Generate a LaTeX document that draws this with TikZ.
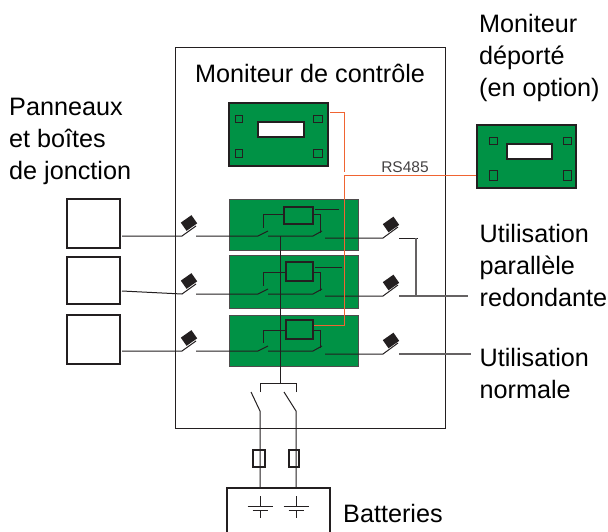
\documentclass[tikz,border=0pt]{standalone}
\usepackage{fontspec}
\setmainfont{Liberation Sans}
\usetikzlibrary{positioning}
\definecolor{boardgreen}{RGB}{0,146,69}
\definecolor{linkorange}{RGB}{240,100,50}
\definecolor{inkblack}{RGB}{35,31,32}
\tikzset{
  wire/.style={draw=inkblack,line width=1pt},
  heavy/.style={draw=inkblack,line width=2pt,inner sep=0pt},
  board/.style={draw=inkblack!80,fill=boardgreen,line width=1pt,inner sep=0pt},
  pcb/.style={heavy,fill=boardgreen},
  relay/.style={heavy,fill=boardgreen},
  window/.style={heavy,fill=white},
  pad/.style={draw=inkblack,line width=.8pt,inner sep=0pt},
  panel/.style={heavy,minimum width=53pt},
  fuse/.style={heavy,minimum height=17pt},
  tile/.style={fill=inkblack,inner sep=0pt,minimum width=13pt,minimum height=10pt,rotate=35},
  link/.style={draw=linkorange,line width=1pt},
  label/.style={font=\fontsize{25.2}{32}\selectfont,align=left,anchor=north west,inner sep=0pt},
}
\begin{document}
\begin{tikzpicture}[x=1pt,y=-1pt]
  \useasboundingbox (0,0) rectangle (608,532);
  % enclosure
  \node[draw=inkblack,line width=.9pt,minimum width=270pt,minimum height=381pt,inner sep=0pt] (case) at (310,237.5) {};
  % monitors
  \node[pcb,minimum width=99pt,minimum height=63pt] (mon) at (278.5,134.5) {};
  \node[window,minimum width=46pt,minimum height=15pt] (monwin) at (281,129.5) {};
  \node[pcb,minimum width=99pt,minimum height=63pt] (remote) at (526.5,156.5) {};
  \node[window,minimum width=45pt,minimum height=15pt] (remwin) at (529.5,151.5) {};
  \foreach \x/\y/\w/\h in {239/119/7/7,318/119/9/7,239/153/7/8,318/153/9/8}
    \node[pad,minimum width=\w pt,minimum height=\h pt] (monpad\x\y) at (\x,\y) {};
  \foreach \x/\y/\w/\h in {493/141/8/7,567/141/8/7,493/175/8/10,567/175/8/10}
    \node[pad,minimum width=\w pt,minimum height=\h pt] (rempad\x\y) at (\x,\y) {};
  % boards, panels and switches
  \foreach \n/\by/\bh/\ry/\rh/\rx/\rw/\py/\ph/\yp/\yw/\yo/\yc/\ytop in {
      1/224.5/51/215.5/17/298.5/29/223.5/49/236/236/238/214/209,
      2/281.5/53/271.5/19/299.5/27/280.5/47/291/294/296/272/267,
      3/340.5/51/329.5/19/299.5/27/339.5/49/351/351/354/330/325}{
    \node[board,minimum width=129pt,minimum height=\bh pt] (board\n) at (293.5,\by) {};
    \node[relay,minimum width=\rw pt,minimum height=\rh pt] (relay\n) at (\rx,\ry) {};
    \node[panel,minimum height=\ph pt] (pan\n) at (93.5,\py) {};
    \node[tile] (tileL\n) at (189,\yw-13) {};
    \node[tile] (tileR\n) at (391,\yo-13.5) {};
    \coordinate (panout\n) at (122,\yp);
    \coordinate (hingeL\n) at (182,\yw);
    \coordinate (tipL\n) at (196,\yw-10);
    \coordinate (backL\n) at (196,\yw);
    \coordinate (hingeA\n) at (258,\yw);
    \coordinate (tipA\n) at (268,\yw-5);
    \coordinate (backA\n) at (268,\yw);
    \coordinate (hingeB\n) at (313,\yw);
    \coordinate (tipB\n) at (322,\yw-5);
    \coordinate (backB\n) at (325,\yo);
    \coordinate (hingeR\n) at (383,\yo);
    \coordinate (tipR\n) at (398,\yo-11);
    \coordinate (backR\n) at (399,\yo);
    \coordinate (coilL\n) at (263,\yw-8);
    \coordinate (coilR\n) at (320,\yw-3);
    % input side
    \draw[wire] (panout\n) -- (hingeL\n) -- (tipL\n);
    \draw[wire] (backL\n) -- (hingeA\n) -- (tipA\n);
    \draw[wire] (backA\n) -- (hingeB\n) -- (tipB\n);
    \draw[wire] (backB\n) -- (hingeR\n) -- (tipR\n);
    % coil
    \draw[wire] (relay\n.west |- 0,\yc) -| (coilL\n);
    \draw[wire] (relay\n.east |- 0,\yc) -| (coilR\n);
  }
  \coordinate (auxA) at (315,209);
  \coordinate (auxB) at (339,209);
  \coordinate (auxC) at (315,267);
  \coordinate (auxD) at (342,267);
  \draw[wire] (auxA) -- (auxB);
  \draw[wire] (auxC) -- (auxD);
  % outputs
  \coordinate (outA) at (418,238);
  \coordinate (outB) at (416,238);
  \coordinate (outC) at (416,296);
  \coordinate (useA) at (468,296);
  \coordinate (useB) at (471,354);
  \draw[wire] (backR1) -- (outA);
  \draw[wire,draw=inkblack!70,line width=1.2pt] (outB) -- (outC);
  \draw[wire,draw=inkblack!70,line width=1.2pt] (backR2) -- (useA);
  \draw[wire,draw=inkblack!70,line width=1.2pt] (backR3) -- (useB);
  % RS485 link
  \coordinate (linkA) at (330,113);
  \coordinate (linkB) at (344,113);
  \coordinate (linkC) at (344,172);
  \coordinate (linkD) at (344,176);
  \draw[link] (linkA) -- (linkB) -- (linkC);
  \draw[link] (relay3.east |- 0,325) -| (linkD) -- (remote.west |- linkD);
  \node[font=\fontsize{15.5}{16}\selectfont,inner sep=0pt,text=inkblack!85] (rs) at (405,167) {RS485};
  % battery feed
  \coordinate (busT) at (280,236);
  \coordinate (busB) at (280,383);
  \draw[wire] (busT) -- (busB);
  \foreach \m/\x/\tx/\wf in {1/260/251/12,2/296/284/10}{
    \node[fuse,minimum width=\wf pt] (fuse\m) at (\ifnum\m=1 259\else 294\fi,458.5) {};
    \coordinate (barS\m) at (\x,392);
    \coordinate (barT\m) at (\x,383);
    \coordinate (swH\m) at (\x,411);
    \coordinate (swT\m) at (\tx,392);
    \coordinate (batT\m) at (\x,488);
    \coordinate (cellT\m) at (\x,496);
    \coordinate (cellM\m) at (\x,506);
    \coordinate (cellN\m) at (\x,510);
    \coordinate (cellB\m) at (\x,518);
    \draw[wire] (barS\m) -- (barT\m) -- (busB);
    \draw[wire] (swT\m) -- (swH\m) -- (batT\m);
    \draw[wire] (cellT\m) -- (cellM\m);
    \draw[wire] (cellN\m) -- (cellB\m);
    \draw[wire] ([xshift=-12.5pt]cellM\m) -- ([xshift=12.5pt]cellM\m);
    \draw[wire] ([xshift=-7.5pt]cellN\m) -- ([xshift=7.5pt]cellN\m);
  }
  % the box runs off the bottom of the page
  \node[heavy,minimum width=103pt,minimum height=60pt] (bat) at (278.5,518) {};
  % texts
  \node[label] (title) at (195,63.5) {Moniteur de contrôle};
  \node[label] (lpan) at (9,97.5) {Panneaux\\et boîtes\\de jonction};
  \node[label] (lrem) at (479,14) {Moniteur\\déporté\\(en option)};
  \node[label] (lpar) at (479.5,224.5) {Utilisation\\parallèle\\redondante};
  \node[label] (lnor) at (479.5,348) {Utilisation\\normale};
  \node[label] (lbat) at (343,504.5) {Batteries};
\end{tikzpicture}
\end{document}
